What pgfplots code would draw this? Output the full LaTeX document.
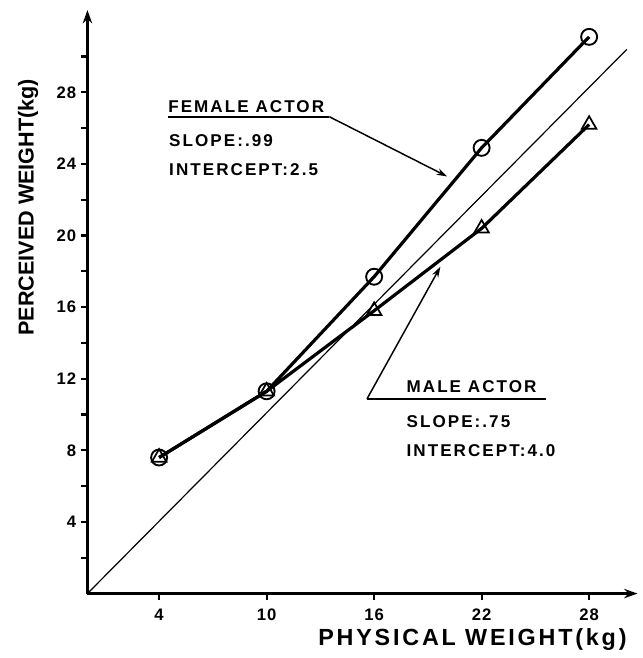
\documentclass[border=0pt]{standalone}
\usepackage{pgfplots}
\pgfplotsset{compat=1.18}
\usepackage{fontspec}
\usetikzlibrary{arrows.meta}
\setmainfont{Liberation Sans}
\newfontfamily\lab[LetterSpace=12]{Liberation Sans}
\newfontfamily\tck[LetterSpace=6]{Liberation Sans}

\begin{document}
\begin{tikzpicture}
\begin{axis}[
  scale only axis,
  width=412.5pt, height=437.6pt,
  xmin=0, xmax=30.7, ymin=0, ymax=32.6,
  axis lines=left,
  axis line style={line width=2.2pt},
  every outer x axis line/.append style={line width=2.2pt, -{Stealth[length=10pt,width=7pt]}},
  every outer y axis line/.append style={line width=2.2pt, -{Stealth[length=10pt,width=7pt]}},
  clip=false,
  xtick={4,10,16,22,28},
  ytick={4,8,...,28},
  minor ytick={2,6,...,30},
  tick align=outside,
  major tick length=5pt, minor tick length=5pt,
  major tick style={black, line width=1.6pt},
  minor tick style={black, line width=1.6pt},
  ticklabel style={font=\tck\bfseries\fontsize{12.5}{14}\selectfont},
  xticklabel style={yshift=-3pt},
  /pgf/number format/assume math mode=true,
  xlabel={PHYSICAL WEIGHT(kg)},
  ylabel={PERCEIVED WEIGHT(kg)},
  xlabel style={font=\lab\bfseries\fontsize{17.5}{20}\selectfont,
    at={(axis description cs:0.70,0)}, anchor=base, yshift=-38.6pt},
  ylabel style={font=\bfseries\fontsize{16.2}{19}\selectfont,
    at={(axis description cs:-0.098,0.662)}, anchor=base},
]
% invisible frame for the page size
\path (axis cs:-4.88,33.16) rectangle (axis cs:31.0,-3.6);

% identity line
\addplot[line width=0.9pt, no marks] coordinates {(0,0) (30.1,30.4)};

% male actor
\addplot[line width=2.4pt, mark=triangle, mark size=6.3pt,
  mark options={fill=white, line width=1.3pt, solid}] coordinates {
  (4,7.6) (10,11.3) (16,15.8) (22,20.4) (28,26.2)
};
% female actor
\addplot[line width=2.4pt, mark=o, mark size=6pt,
  mark options={fill=white, line width=1.4pt, solid}] coordinates {
  (4,7.6) (10,11.3) (16,17.7) (22,24.9) (28,31.1)
};

% female annotation
\node[anchor=base west, inner sep=0, font=\lab\bfseries\fontsize{12.8}{14}\selectfont]
  at (axis cs:4.5,26.9) {FEMALE ACTOR};
\node[anchor=base west, inner sep=0, font=\lab\bfseries\fontsize{12.8}{14}\selectfont]
  at (axis cs:4.55,24.96) {SLOPE:.99};
\node[anchor=base west, inner sep=0, font=\lab\bfseries\fontsize{12.8}{14}\selectfont]
  at (axis cs:4.55,23.38) {INTERCEPT:2.5};
\draw[line width=1.3pt] (axis cs:4.5,26.64) -- (axis cs:13.5,26.64);
\draw[line width=1.1pt, -{Stealth[length=8pt,width=5pt]}]
  (axis cs:13.5,26.64) -- (axis cs:20.08,23.3);

% male annotation
\node[anchor=base west, inner sep=0, font=\lab\bfseries\fontsize{12.8}{14}\selectfont]
  at (axis cs:17.8,11.22) {MALE ACTOR};
\node[anchor=base west, inner sep=0, font=\lab\bfseries\fontsize{12.8}{14}\selectfont]
  at (axis cs:17.8,9.28) {SLOPE:.75};
\node[anchor=base west, inner sep=0, font=\lab\bfseries\fontsize{12.8}{14}\selectfont]
  at (axis cs:17.8,7.64) {INTERCEPT:4.0};
\draw[line width=1.3pt] (axis cs:25.6,10.87) -- (axis cs:15.6,10.87);
\draw[line width=1.1pt, -{Stealth[length=8pt,width=5pt]}]
  (axis cs:15.6,10.87) -- (axis cs:19.7,18.26);
\end{axis}
\end{tikzpicture}
\end{document}
